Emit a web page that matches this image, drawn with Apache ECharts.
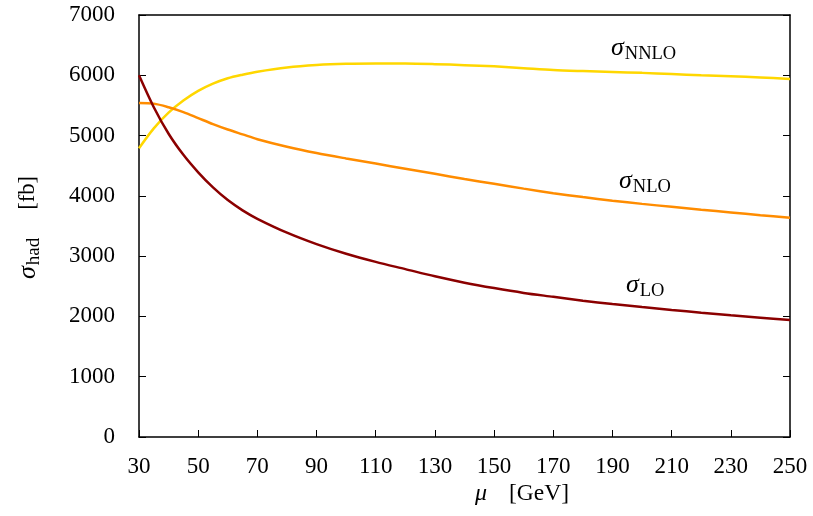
<!DOCTYPE html>
<html>
<head>
<meta charset="utf-8">
<script src="https://cdn.jsdelivr.net/npm/echarts@6/dist/echarts.min.js"></script>
<style>html,body{margin:0;padding:0;background:#fff}#c{width:813px;height:516px}</style>
</head>
<body>
<div id="c"></div>
<script>
const mu = [30,35,40,45,50,55,60,65,70,80,90,100,110,120,130,140,150,160,170,180,190,200,210,220,230,240,250];
const sigmaLO = [6000,5470,5030,4680,4390,4140,3930,3760,3620,3390,3200,3040,2905,2785,2665,2560,2470,2390,2325,2260,2205,2155,2108,2063,2020,1980,1940];
const sigmaNLO = [5540,5530,5470,5390,5290,5190,5100,5020,4940,4815,4710,4620,4535,4450,4365,4280,4200,4120,4045,3980,3920,3867,3818,3770,3725,3680,3637];
const sigmaNNLO = [4790,5120,5380,5580,5740,5860,5950,6010,6060,6130,6170,6190,6195,6195,6185,6168,6148,6118,6088,6070,6055,6040,6020,6000,5985,5965,5940];
const xTicks = [30,50,70,90,110,130,150,170,190,210,230,250];
const yTicks = [0,1000,2000,3000,4000,5000,6000,7000];

const FONT = '"Liberation Serif", "DejaVu Serif", serif';
const pairs = arr => mu.map((m, i) => [m, arr[i]]);
const chart = echarts.init(document.getElementById('c'));
const axisLbl = {fontFamily: FONT, fontSize: 23, color: '#000'};
const sigmaRich = {
  s: {fontFamily: FONT, fontStyle: 'italic', fontSize: 26, color: '#000'},
  b: {fontFamily: FONT, fontSize: 18.5, color: '#000', padding: [12, 0, 0, 1]}
};
const lineBase = {type: 'line', smooth: 0.3, showSymbol: false};
chart.setOption({
  animation: false,
  grid: {left: 139, right: 23, top: 15, bottom: 79, show: false},
  xAxis: [{
    type: 'value', min: 30, max: 250, interval: 20,
    axisLine: {show: true, onZero: false, lineStyle: {color: '#000', width: 1.5}},
    axisTick: {show: true, inside: true, length: 7, lineStyle: {color: '#000'}},
    axisLabel: Object.assign({margin: 18, formatter: v => xTicks.includes(v) ? String(v) : ''}, axisLbl),
    splitLine: {show: false}
  }, {
    type: 'value', position: 'top', min: 30, max: 250,
    axisLine: {show: true, onZero: false, lineStyle: {color: '#000', width: 1.5}},
    axisTick: {show: false}, axisLabel: {show: false}, splitLine: {show: false}
  }],
  yAxis: [{
    type: 'value', min: 0, max: 7000, interval: 1000,
    axisLine: {show: true, onZero: false, lineStyle: {color: '#000', width: 1.5}},
    axisTick: {show: true, inside: true, length: 7, lineStyle: {color: '#000'}},
    axisLabel: Object.assign({margin: 24, formatter: v => yTicks.includes(v) ? String(v) : ''}, axisLbl),
    splitLine: {show: false}
  }, {
    type: 'value', position: 'right', min: 0, max: 7000, interval: 1000,
    axisLine: {show: true, onZero: false, lineStyle: {color: '#000', width: 1.5}},
    axisTick: {show: true, inside: true, length: 7, lineStyle: {color: '#000'}},
    axisLabel: {show: false}, splitLine: {show: false}
  }],
  series: [
    Object.assign({name: 'LO', data: pairs(sigmaLO), lineStyle: {color: '#8b0000', width: 2.5}, z: 3}, lineBase),
    Object.assign({name: 'NLO', data: pairs(sigmaNLO), lineStyle: {color: '#ff8c00', width: 2.5}, z: 2}, lineBase),
    Object.assign({name: 'NNLO', data: pairs(sigmaNNLO), lineStyle: {color: '#ffd700', width: 2.5}, z: 1}, lineBase)
  ],
  graphic: [
    {type: 'text', left: 611, top: 35, style: {text: '{s|σ}{b|NNLO}', rich: sigmaRich}},
    {type: 'text', left: 619, top: 168, style: {text: '{s|σ}{b|NLO}', rich: sigmaRich}},
    {type: 'text', left: 626, top: 272, style: {text: '{s|σ}{b|LO}', rich: sigmaRich}},
    {type: 'text', left: 475, top: 482, style: {text: '{s|μ}{n|[GeV]}', rich: {
      s: {fontFamily: FONT, fontStyle: 'italic', fontSize: 24, color: '#000'},
      n: {fontFamily: FONT, fontSize: 23.5, color: '#000', padding: [0, 0, 0, 22]}}}},
    {type: 'text', x: 13, y: 279, rotation: Math.PI / 2, style: {text: '{s|σ}{b|had}{n|[fb]}', rich: {
      s: {fontFamily: FONT, fontStyle: 'italic', fontSize: 26, color: '#000'},
      b: {fontFamily: FONT, fontSize: 19, color: '#000', padding: [12, 0, 0, 1]},
      n: {fontFamily: FONT, fontSize: 22.5, color: '#000', padding: [0, 0, 0, 28]}}}}
  ]
});
</script>
</body>
</html>
